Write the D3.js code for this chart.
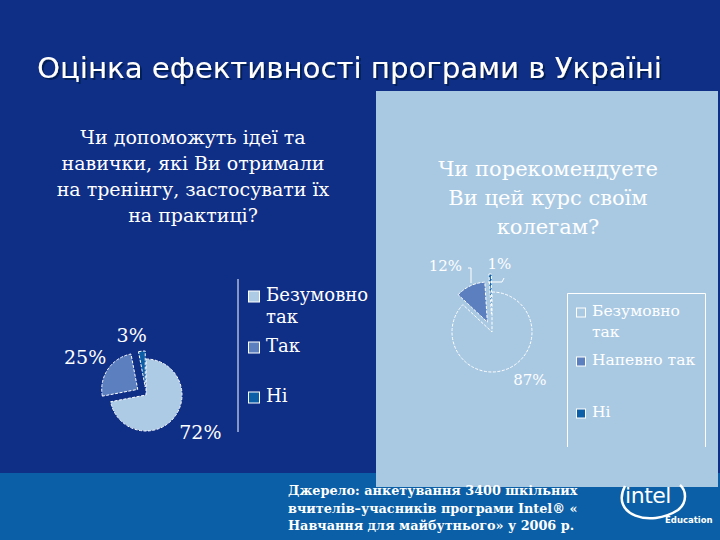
<!DOCTYPE html>
<html>
<head>
<meta charset="utf-8">
<script src="https://cdn.jsdelivr.net/npm/d3@7"></script>
<style>
html,body{margin:0;padding:0;background:#0f2e86;}
svg{display:block;}
</style>
</head>
<body>
<svg id="chart" width="720" height="540"></svg>
<script>
// ---- data ----
const pageTitle = "Оцінка ефективності програми в Україні";
const leftTitle = ["Чи допоможуть ідеї та", "навички, які Ви отримали", "на тренінгу, застосувати їх", "на практиці?"];
const leftCategories = ["Безумовно так", "Так", "Ні"];
const leftValues = [72, 25, 3];
const rightTitle = ["Чи порекомендуете", "Ви цей курс своїм", "колегам?"];
const rightCategories = ["Безумовно так", "Напевно так", "Ні"];
const rightValues = [87, 12, 1];
const sourceLines = ["Джерело: анкетування 3400  шкільних", "вчителів–учасників програми Intel® «", "Навчання для майбутнього» у 2006 р."];

// ---- style ----
const C = {bg:"#0f2e86", band:"#0b5fa6", panel:"#a9c9e3", light:"#aecbe6", mid:"#5b7fbf", dark:"#0b5fa8"};
const serif = "'DejaVu Serif', serif";
const svg = d3.select("#chart");

const defs = svg.append("defs");
const f = defs.append("filter").attr("id","sh").attr("x","-5%").attr("y","-20%").attr("width","110%").attr("height","150%");
f.append("feDropShadow").attr("dx",2).attr("dy",2).attr("stdDeviation",0.6).attr("flood-color","#061a55").attr("flood-opacity",0.9);

svg.append("rect").attr("width",720).attr("height",540).attr("fill",C.bg);
svg.append("rect").attr("x",0).attr("y",473).attr("width",720).attr("height",67).attr("fill",C.band);
svg.append("rect").attr("x",376).attr("y",91).attr("width",342).attr("height",396).attr("fill",C.panel);

// page title with shadow
svg.append("text").attr("x",37).attr("y",78).attr("fill","#fff").attr("filter","url(#sh)")
  .attr("font-family","'DejaVu Sans',Verdana,sans-serif").attr("font-size",29.2)
  .text(pageTitle);

function multiline(lines, cx, y0, dy, size, fill){
  const t = svg.append("text").attr("text-anchor","middle").attr("font-family",serif)
    .attr("font-size",size).attr("fill",fill);
  lines.forEach((l,i)=>t.append("tspan").attr("x",cx).attr("y",y0+i*dy).text(l));
}
multiline(leftTitle, 193, 144, 26, 19, "#fff");
multiline(rightTitle, 548, 176, 29, 21, "#fff");

function drawPie(opt){
  const pie = d3.pie().sort(null).startAngle(0).endAngle(2*Math.PI)(opt.values);
  const arc = d3.arc().innerRadius(0).outerRadius(opt.r);
  const g = svg.append("g").attr("transform",`translate(${opt.cx},${opt.cy})`);
  pie.forEach((d,i)=>{
    const mid = (d.startAngle+d.endAngle)/2;
    const off = opt.explode[i];
    const dx = Math.sin(mid)*off, dy = -Math.cos(mid)*off;
    g.append("path").attr("d",arc(d)).attr("transform",`translate(${dx},${dy})`)
      .attr("fill",opt.colors[i]).attr("stroke","#fff").attr("stroke-width",1)
      .attr("stroke-dasharray","3,1.5");
    const la = mid + opt.labelAngle[i]*Math.PI/180;
    const lr = opt.labelR[i];
    g.append("text").attr("x",Math.sin(la)*lr).attr("y",-Math.cos(la)*lr)
      .attr("text-anchor","middle").attr("dominant-baseline","central")
      .attr("font-family",serif).attr("font-size",opt.labelSize).attr("fill","#fff")
      .text(d3.format(".0%")(d.value/100));
  });
  return {g, pie};
}

drawPie({values:leftValues, cx:146, cy:395, r:36, explode:[0,10,8],
  colors:[C.light,C.mid,C.dark], labelR:[66,72,62], labelAngle:[-5,-2,-8], labelSize:19});
const R = drawPie({values:rightValues, cx:492, cy:332, r:40, explode:[0,11,18],
  colors:[C.panel,C.mid,C.dark], labelR:[61,81,68], labelAngle:[-15,-10,8], labelSize:15});

// leader lines for right small slices
const lead = d3.line();
R.g.append("path").attr("d",lead([[-24,-64],[-21,-64],[-21,-49]])).attr("fill","none").attr("stroke","#fff").attr("stroke-width",1);
R.g.append("path").attr("d",lead([[-4,-50],[10,-50],[12,-54]])).attr("fill","none").attr("stroke","#fff").attr("stroke-width",1);

function legend(opt){
  const g = svg.append("g");
  opt.cats.forEach((c,i)=>{
    const y = opt.ys[i];
    g.append("rect").attr("x",opt.x).attr("y",y-opt.sq+1).attr("width",opt.sq).attr("height",opt.sq)
      .attr("fill",opt.colors[i]).attr("stroke","#fff").attr("stroke-width",1);
    const t = g.append("text").attr("font-family",serif).attr("font-size",opt.size).attr("fill","#fff");
    const words = c.split(" ");
    if (c.length > opt.wrapAt){
      t.append("tspan").attr("x",opt.tx).attr("y",y).text(words[0]);
      t.append("tspan").attr("x",opt.tx).attr("y",y+opt.lh).text(words.slice(1).join(" "));
    } else {
      t.append("tspan").attr("x",opt.tx).attr("y",y).text(c);
    }
  });
}
svg.append("line").attr("x1",238).attr("x2",238).attr("y1",279).attr("y2",432).attr("stroke","#fff").attr("stroke-width",1);
legend({cats:leftCategories, colors:[C.light,C.mid,C.dark], x:248.5, tx:266, ys:[301,352,402], sq:11, size:18, lh:22, wrapAt:8});

svg.append("path").attr("d","M567.5,447 V293.5 H705.5 V447").attr("fill","none").attr("stroke","#fff").attr("stroke-width",1);
legend({cats:rightCategories, colors:[C.panel,C.mid,C.dark], x:576.5, tx:592, ys:[316,365,417], sq:9, size:15.5, lh:21, wrapAt:12});

// source note
const st = svg.append("text").attr("font-family",serif).attr("font-weight","bold").attr("font-size",12.8).attr("fill","#fff");
sourceLines.forEach((l,i)=>st.append("tspan").attr("x",288).attr("y",495+i*17.5).text(l));

// intel logo
svg.append("text").attr("x",648).attr("y",503).attr("text-anchor","middle")
  .attr("font-family","'DejaVu Sans',Verdana,sans-serif").attr("font-size",22).attr("fill","#fff").attr("letter-spacing",-0.5).text("intel");
svg.append("path").attr("d","M625,486 C610,515 650,528 678,510 C688,502 686,490 680,485")
  .attr("fill","none").attr("stroke","#fff").attr("stroke-width",2.5);
svg.append("text").attr("x",665).attr("y",523).attr("font-family","'DejaVu Sans',sans-serif").attr("font-weight","bold").attr("font-size",8.5).attr("fill","#fff").text("Education");
</script>
</body>
</html>
